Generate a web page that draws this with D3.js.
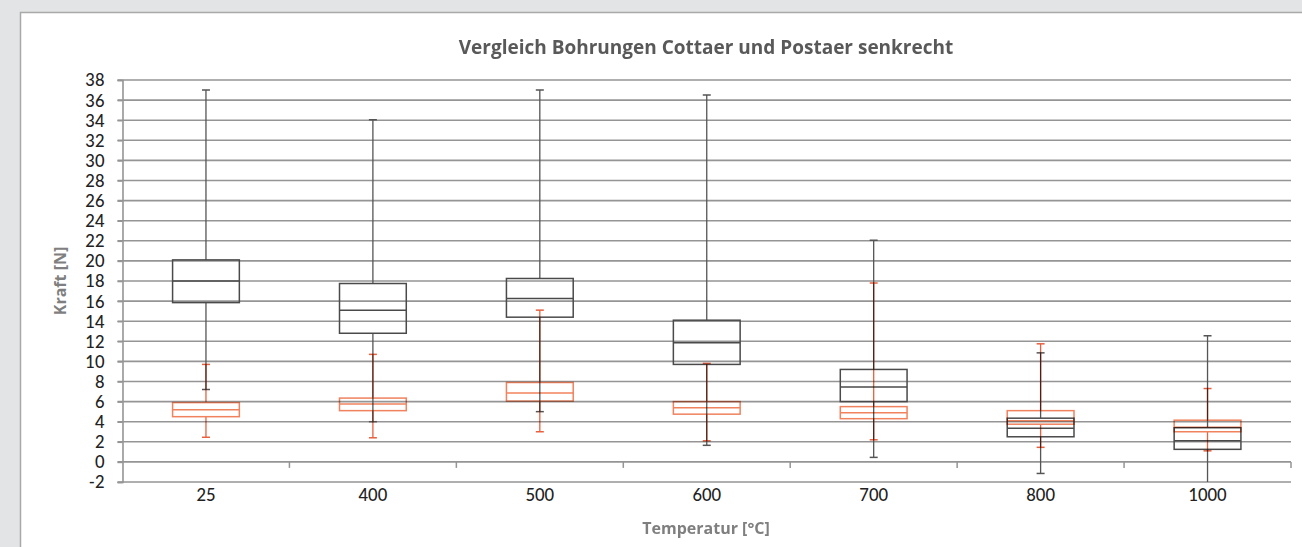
<!DOCTYPE html>
<html>
<head>
<meta charset="utf-8">
<script src="https://cdn.jsdelivr.net/npm/d3@7"></script>
<style>
  body { margin: 0; background: #e3e4e5; }
  svg { display: block; }
  text { font-family: "Open Sans", Lato, sans-serif; }
  .tick text { font-family: Lato, "Open Sans", sans-serif; }
</style>
</head>
<body>
<svg id="chart" width="1302" height="547"></svg>
<script>
const categories = ["25", "400", "500", "600", "700", "800", "1000"];
const yTicks = [-2, 0, 2, 4, 6, 8, 10, 12, 14, 16, 18, 20, 22, 24, 26, 28, 30, 32, 34, 36, 38];

// dark series (box + whiskers)
const cottaerMin = [7.2, 4.0, 5.0, 1.65, 0.45, -1.15, -2.6];
const cottaerQ1 = [15.85, 12.8, 14.4, 9.7, 6.0, 2.5, 1.25];
const cottaerMed = [18.0, 15.1, 16.25, 11.85, 7.45, 3.35, 2.1];
const cottaerQ3 = [20.1, 17.75, 18.25, 14.1, 9.2, 4.35, 3.4];
const cottaerMax = [37.0, 34.05, 37.0, 36.5, 22.05, 10.85, 12.55];

// orange series
const postaerMin = [2.45, 2.4, 3.0, 2.1, 2.2, 1.45, 1.1];
const postaerQ1 = [4.5, 5.1, 6.05, 4.75, 4.3, 3.75, 3.0];
const postaerMed = [5.2, 5.75, 6.85, 5.4, 4.9, 4.1, 3.45];
const postaerQ3 = [5.9, 6.35, 7.9, 6.0, 5.5, 5.1, 4.15];
const postaerMax = [9.7, 10.7, 15.1, 9.8, 17.8, 11.75, 7.3];

const LEFT = 122.5, RIGHT = 1291, TOP = 80, BOTTOM = 482;
const GRID = '#959595';

const svg = d3.select('#chart');

// white chart panel
svg.append('rect')
  .attr('x', 20.5).attr('y', 12.5)
  .attr('width', 1300).attr('height', 540)
  .attr('fill', '#fff')
  .attr('stroke', '#a9a9a9')
  .attr('stroke-width', 1.5);

const x = d3.scaleBand().domain(categories).range([LEFT, RIGHT]);
const y = d3.scaleLinear().domain([-2, 38]).range([BOTTOM, TOP]);

// gridlines
svg.append('g')
  .selectAll('line')
  .data(yTicks)
  .enter()
  .append('line')
  .attr('x1', LEFT - 5).attr('x2', RIGHT)
  .attr('y1', d => y(d)).attr('y2', d => y(d))
  .style('stroke', GRID)
  .style('stroke-width', 1.6);

// y axis (plain hyphen for negatives, like the original)
const yAxis = svg.append('g')
  .attr('transform', `translate(${LEFT},0)`)
  .call(d3.axisLeft(y).tickValues(yTicks).tickFormat(d => String(d)).tickSize(5).tickPadding(13));
yAxis.select('.domain').attr('stroke', GRID).attr('stroke-width', 1.6);
yAxis.selectAll('.tick line').attr('stroke', GRID).attr('stroke-width', 1.6);
yAxis.selectAll('text')
  .style('font-size', '16.5px')
  .style('font-weight', 500)
  .attr('fill', '#222')
  .attr('dy', '0.36em');

// x axis labels
const xAxis = svg.append('g')
  .attr('transform', `translate(0,${BOTTOM})`)
  .call(d3.axisBottom(x).tickSize(0).tickPadding(7));
xAxis.select('.domain').remove();
xAxis.selectAll('text')
  .style('font-size', '16.5px')
  .style('font-weight', 500)
  .attr('fill', '#222');

// category boundary ticks on the zero line
const bounds = categories.slice(1).map(c => x(c)).concat([RIGHT]);
svg.append('g')
  .selectAll('line')
  .data(bounds)
  .enter()
  .append('line')
  .attr('x1', d => d).attr('x2', d => d)
  .attr('y1', y(0)).attr('y2', y(0) + 6)
  .style('stroke', GRID)
  .style('stroke-width', 1.5);

// clip for the plot
svg.append('clipPath').attr('id', 'plotclip')
  .append('rect')
  .attr('x', LEFT).attr('y', TOP - 10)
  .attr('width', RIGHT - LEFT).attr('height', BOTTOM - TOP + 10);

function drawSeries(name, mins, q1s, meds, q3s, maxs, boxColor, whiskerColor, blend) {
  const boxes = categories.map((c, i) => ({
    c: c, min: mins[i], q1: q1s[i], med: meds[i], q3: q3s[i], max: maxs[i]
  }));
  const bw = x.bandwidth() * 0.4;
  const cap = 4;

  const g = svg.append('g')
    .attr('class', name)
    .attr('clip-path', 'url(#plotclip)')
    .style('mix-blend-mode', blend);

  const u = g.selectAll('g')
    .data(boxes)
    .enter()
    .append('g')
    .attr('transform', d => `translate(${x(d.c) + x.bandwidth() / 2},0)`);

  // whiskers
  u.append('line')
    .attr('y1', d => y(d.q3)).attr('y2', d => y(d.max))
    .style('stroke', whiskerColor).style('stroke-width', 1.3);
  u.append('line')
    .attr('y1', d => y(d.q1)).attr('y2', d => y(d.min))
    .style('stroke', whiskerColor).style('stroke-width', 1.3);

  // caps
  u.append('line')
    .attr('x1', -cap).attr('x2', cap)
    .attr('y1', d => y(d.max)).attr('y2', d => y(d.max))
    .style('stroke', whiskerColor).style('stroke-width', 1.5);
  u.append('line')
    .attr('x1', -cap).attr('x2', cap)
    .attr('y1', d => y(d.min)).attr('y2', d => y(d.min))
    .style('stroke', whiskerColor).style('stroke-width', 1.5);

  // box
  u.append('rect')
    .attr('x', -bw / 2)
    .attr('width', bw)
    .attr('y', d => y(d.q3))
    .attr('height', d => y(d.q1) - y(d.q3))
    .style('fill', 'none')
    .style('stroke', boxColor)
    .style('stroke-width', 1.5);

  // median
  u.append('line')
    .attr('x1', -bw / 2).attr('x2', bw / 2)
    .attr('y1', d => y(d.med)).attr('y2', d => y(d.med))
    .style('stroke', boxColor)
    .style('stroke-width', 1.5);
}

drawSeries('cottaer', cottaerMin, cottaerQ1, cottaerMed, cottaerQ3, cottaerMax, '#4a4a4a', '#555', 'normal');
drawSeries('postaer', postaerMin, postaerQ1, postaerMed, postaerQ3, postaerMax, '#f0825e', '#e8603e', 'multiply');

// title
svg.append('text')
  .attr('x', 706)
  .attr('y', 54)
  .attr('text-anchor', 'middle')
  .style('font-size', '19px')
  .style('font-weight', 'bold')
  .attr('fill', '#595959')
  .text('Vergleich Bohrungen Cottaer und Postaer senkrecht');

// axis titles
svg.append('text')
  .attr('x', 706)
  .attr('y', 534)
  .attr('text-anchor', 'middle')
  .style('font-size', '16px')
  .style('font-weight', 'bold')
  .attr('fill', '#7f7f7f')
  .text('Temperatur [°C]');

svg.append('text')
  .attr('transform', `translate(66,${(TOP + BOTTOM) / 2}) rotate(-90)`)
  .attr('text-anchor', 'middle')
  .style('font-size', '16px')
  .style('font-weight', 'bold')
  .attr('fill', '#7f7f7f')
  .text('Kraft [N]');
</script>
</body>
</html>
